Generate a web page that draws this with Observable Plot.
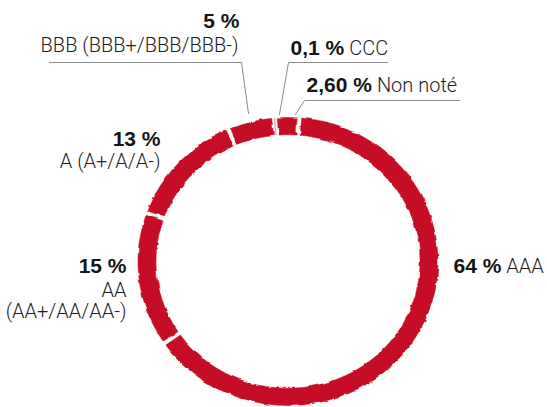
<!DOCTYPE html>
<html>
<head>
<meta charset="utf-8">
<script src="https://cdn.jsdelivr.net/npm/d3@7"></script>
<script src="https://cdn.jsdelivr.net/npm/@observablehq/plot@0.6"></script>
<style>
  html, body { margin: 0; padding: 0; background: #fff; }
  #chart { width: 547px; height: 407px; }
</style>
</head>
<body>
<div id="chart"></div>
<script>
// ---- data ----
const categories = ["Non noté", "AAA", "AA", "A", "BBB", "CCC"];
const shares = [2.60, 64, 15, 13, 5, 0.1];
const percentLabels = ["2,60 %", "64 %", "15 %", "13 %", "5 %", "0,1 %"];
const nameLabels = ["Non noté", "AAA", "AA\n(AA+/AA/AA-)", "A (A+/A/A-)", "BBB (BBB+/BBB/BBB-)", "CCC"];

// ---- layout ----
const W = 547, H = 407;
const cx = 287.5, cy = 261, rx = 150, ry = 144;   // ring centre and outer radii, px
const innerR = 0.88;
const startDeg = -5, padDeg = 0.9;
const red = "#c60f26";
const lineStep = 21;
const ux = px => (px - cx) / rx;
const uy = py => (cy - py) / ry;

const pctFont = "bold 21px 'Liberation Sans'";
const nameFamily = "Roboto, 'Liberation Sans', sans-serif";

// annotation layout: percent anchor, name anchor (first line; "after" = inline after percent), leader polyline
const labelLayout = {
  "BBB":      {pct: [239, 21, "end"], name: [238, 45, "end"], line: [[49, 62], [241, 62], [248, 113]]},
  "CCC":      {pct: [290, 48, "start"], name: "after", line: [[387, 62], [288, 62], [279, 114]]},
  "Non noté": {pct: [306, 85, "start"], name: "after", line: [[459, 100], [304, 100], [295, 114]]},
  "A":        {pct: [160, 139, "end"], name: [160, 161, "end"]},
  "AA":       {pct: [126, 266, "end"], name: [126, 290, "end"]},
  "AAA":      {pct: [453, 266, "start"], name: "after"}
};

// ---- ring polygons built from the shares ----
const total = d3.sum(shares);
const ring = [];
let cum = 0;
categories.forEach((cat, i) => {
  const a0 = startDeg + cum / total * 360;
  cum += shares[i];
  const a1 = startDeg + cum / total * 360;
  const p = shares[i] < 1 ? 0 : padDeg;
  const b0 = a0 + p, b1 = a1 - p;
  const n = Math.max(2, Math.ceil((b1 - b0) / 1));
  const pts = [];
  for (let j = 0; j <= n; j++) {
    const a = (b0 + (b1 - b0) * j / n) * Math.PI / 180;
    pts.push({cat, x: Math.sin(a), y: Math.cos(a)});
  }
  for (let j = n; j >= 0; j--) {
    const a = (b0 + (b1 - b0) * j / n) * Math.PI / 180;
    pts.push({cat, x: innerR * Math.sin(a), y: innerR * Math.cos(a)});
  }
  pts.push({...pts[0]});
  ring.push(...pts);
});

// ---- annotation tables ----
const ctx = document.createElement("canvas").getContext("2d");
ctx.font = pctFont;
const pctText = categories.map((c, i) => {
  const [px, py, anchor] = labelLayout[c].pct;
  return {cat: c, text: percentLabels[i], px, py, anchor, w: ctx.measureText(percentLabels[i]).width};
});
const nameText = [];
categories.forEach((c, i) => {
  const L = labelLayout[c];
  let px, py, anchor;
  if (L.name === "after") {
    const p = pctText[i];
    px = p.px + p.w + 5; py = p.py; anchor = "start";
  } else {
    [px, py, anchor] = L.name;
  }
  nameLabels[i].split("\n").forEach((t, k) => {
    nameText.push({text: t, x: ux(px), y: uy(py + k * lineStep), anchor});
  });
});
pctText.forEach(d => { d.x = ux(d.px); d.y = uy(d.py); });
const leaders = [];
categories.forEach(c => {
  const L = labelLayout[c].line;
  if (L) L.forEach(([px, py]) => leaders.push({cat: c, x: ux(px), y: uy(py)}));
});

const textMarks = [];
["start", "end"].forEach(anc => {
  textMarks.push(Plot.text(pctText.filter(d => d.anchor === anc), {
    x: "x", y: "y", text: "text", textAnchor: anc,
    fontFamily: "Liberation Sans, Arial, sans-serif", fontWeight: "bold", fontSize: 21, fill: "#151515"
  }));
  textMarks.push(Plot.text(nameText.filter(d => d.anchor === anc), {
    x: "x", y: "y", text: "text", textAnchor: anc,
    fontFamily: nameFamily, fontWeight: 300, fontSize: 20, fill: "#1e1e1e"
  }));
});

const chart = Plot.plot({
  width: W, height: H,
  margin: 0,
  x: {domain: [ux(0), ux(W)], axis: null},
  y: {domain: [uy(H), uy(0)], axis: null},
  marks: [
    Plot.line(leaders, {x: "x", y: "y", z: "cat", stroke: "#8a8a8a", strokeWidth: 1}),
    Plot.line(ring.filter(d => d.cat !== "CCC"), {x: "x", y: "y", z: "cat", fill: red, stroke: red, strokeWidth: 0.5}),
    Plot.line(ring.filter(d => d.cat === "CCC"), {x: "x", y: "y", z: "cat", fill: "#e8a0a8", stroke: "#eab0b6", strokeWidth: 0.6}),
    ...textMarks
  ]
});

// brush-like ragged edges on the ring
const ns = "http://www.w3.org/2000/svg";
const defs = document.createElementNS(ns, "defs");
const filter = document.createElementNS(ns, "filter");
filter.setAttribute("id", "rough");
filter.setAttribute("x", "-5%"); filter.setAttribute("y", "-5%");
filter.setAttribute("width", "110%"); filter.setAttribute("height", "110%");
const turb = document.createElementNS(ns, "feTurbulence");
turb.setAttribute("type", "fractalNoise");
turb.setAttribute("baseFrequency", "0.07 0.1");
turb.setAttribute("numOctaves", "3");
turb.setAttribute("seed", "11");
turb.setAttribute("result", "n");
const disp = document.createElementNS(ns, "feDisplacementMap");
disp.setAttribute("in", "SourceGraphic");
disp.setAttribute("in2", "n");
disp.setAttribute("scale", "4");
disp.setAttribute("xChannelSelector", "R");
disp.setAttribute("yChannelSelector", "G");
filter.appendChild(turb); filter.appendChild(disp);
defs.appendChild(filter);
chart.insertBefore(defs, chart.firstChild);
const lineGroups = chart.querySelectorAll('g[aria-label="line"]');
if (lineGroups[1]) lineGroups[1].setAttribute("filter", "url(#rough)");

document.getElementById("chart").appendChild(chart);
</script>
</body>
</html>
